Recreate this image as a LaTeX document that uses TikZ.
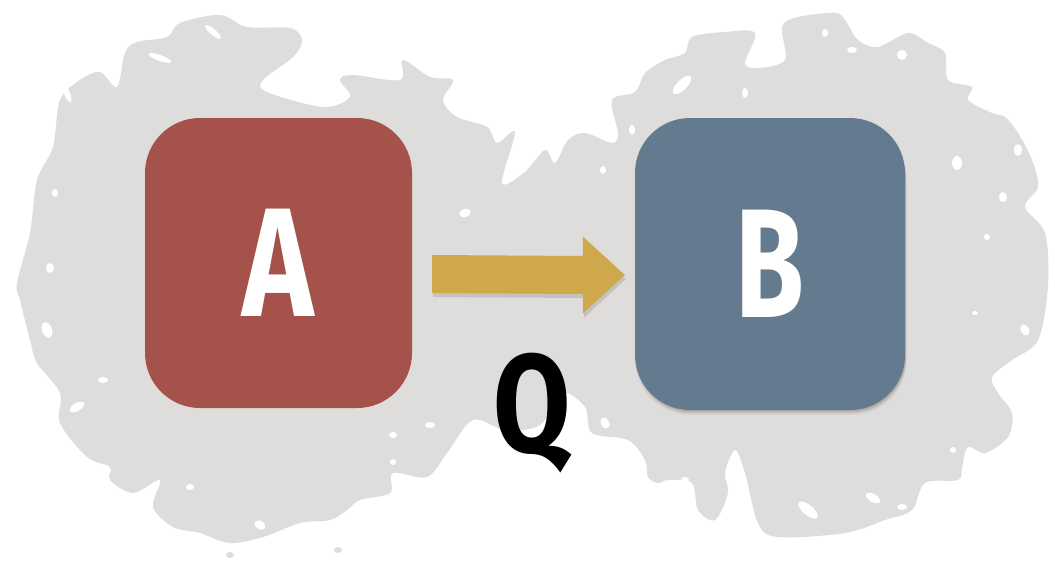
\documentclass[tikz,border=0pt]{standalone}
\usepackage{fontspec}
\newfontfamily\handfont{Fira Sans}
\usetikzlibrary{calc,shadows}
\definecolor{blobgray}{HTML}{DEDDDC}
\definecolor{redA}{HTML}{A4524A}
\definecolor{blueB}{HTML}{647A8F}
\definecolor{goldC}{HTML}{CFA84B}
\tikzset{
  card/.style={rounded corners=55pt, inner sep=0pt, text=white,
    font=\handfont\bfseries\fontsize{155}{155}\selectfont},
  speck/.style={fill=white},
  label/.style={inner sep=0pt, anchor=base,
    font=\handfont\bfseries\fontsize{140}{140}\selectfont},
}
\begin{document}
\begin{tikzpicture}[x=1pt,y=-1pt]
\useasboundingbox (0,0) rectangle (1055,562);
\fill[white] (0,0) rectangle (1055,562);
% splash background
\fill[blobgray] plot[smooth cycle, tension=0.55] coordinates {
(17,283) (30,233) (37,180) (53,147) (60,100) (80,80) (100,72) (117,87) (125,53) (137,42) (167,37) (180,23) (220,15) (247,27) (290,28) (302,40) (293,57) (263,80) (267,92) (323,107) (350,97) (340,80) (353,75) (400,80) (403,60) (430,77) (453,80) (443,100) (457,117) (487,127) (497,143) (515,132) (502,183) (525,172) (545,150) (555,163) (568,140) (585,133) (612,143) (618,133) (612,100) (635,92) (645,73) (665,60) (685,53) (692,37) (725,32) (755,33) (745,63) (758,68) (785,60) (782,27) (798,17) (835,13) (845,20) (858,40) (878,47) (908,33) (928,43) (945,53) (948,80) (972,87) (968,100) (992,113) (1005,117) (1018,133) (1032,160) (1038,187) (1025,207) (1045,233) (1048,285) (1038,340) (1012,360) (992,377) (998,393) (1012,413) (1008,437) (985,453) (968,447) (962,467) (958,480) (925,483) (912,510) (885,520) (845,533) (778,537) (758,523) (745,473) (735,450) (725,473) (728,493) (715,520) (698,510) (692,483) (668,480) (658,483) (648,477) (645,460) (628,440) (592,433) (585,407) (562,393) (540,425) (505,430) (473,420) (447,453) (427,477) (393,473) (390,493) (360,500) (347,510) (330,520) (300,523) (263,537) (230,543) (200,533) (173,527) (153,507) (160,480) (133,493) (110,480) (110,467) (87,457) (60,423) (60,393) (37,363) (30,340) (20,300)};
% white specks
\foreach \x/\y/\a/\b/\r in {160/58/12/3/-20, 67/93/3/10/20, 55/193/3/4/0, 50/268/4/5/0, 363/67/6/3/0, 458/107/3/6/0, 465/213/6/4/20, 213/32/10/3/-40, 265/18/5/3/-20,
  675/32/4/4/0, 768/45/5/4/0, 825/33/3/4/0, 852/50/5/3/0, 902/55/5/5/0, 682/85/12/5/45, 632/130/3/5/0, 603/170/3/4/0, 745/93/3/5/0, 957/163/5/7/0, 1018/150/4/6/0, 1015/107/3/6/0, 1003/197/4/5/0, 987/237/3/3/0,
  47/330/5/8/20, 103/380/5/3/0, 77/407/8/4/30, 190/487/4/3/0, 260/525/6/4/-30, 393/435/4/3/0, 430/425/5/3/0, 393/462/3/3/0,
  975/313/3/2/0, 1025/330/4/6/30, 1005/383/5/3/0, 953/450/3/3/0, 902/507/5/3/0, 873/498/8/4/-30, 808/510/12/5/-40, 685/480/4/3/0, 605/423/4/6/30, 995/462/4/2/0}
  \fill[speck, rotate around={\r:(\x,\y)}] (\x,\y) ellipse [x radius=\a, y radius=\b];
\fill[blobgray] (230,555) ellipse [x radius=4, y radius=3];
\fill[blobgray] (338,550) ellipse [x radius=4, y radius=3];
% soft shadow under card B
\foreach \d/\o in {6/0.05, 4.5/0.07, 3/0.09, 1.5/0.1}
  \fill[black!70!brown, opacity=\o, rounded corners=55pt] (637-\d*0.3,120+\d) rectangle (905+\d*0.3,410+\d*0.8);
% cards
\node[card, fill=redA, minimum width=267pt, minimum height=290pt] (A) at (278.5,263) {\scalebox{0.78}[1]{A}};
\node[card, fill=blueB, minimum width=270pt, minimum height=292pt] (B) at (770,264) {\scalebox{0.72}[1]{B}};
% arrow connector
\coordinate (s) at ($(A.east)+(20,11)$);
\coordinate (t) at ($(B.west)+(-10,11)$);
\fill[black, opacity=0.12] ($(s)+(1,-16)$) -- ($(t)+(-41,-16)$) -- ($(t)+(-41,-35)$) -- ($(t)+(1,4)$) -- ($(t)+(-41,43)$) -- ($(t)+(-41,23)$) -- ($(s)+(1,23)$) -- cycle;
\fill[goldC] ($(s)+(0,-19)$) -- ($(t)+(-42,-19)$) -- ($(t)+(-42,-38.5)$) -- (t) -- ($(t)+(-42,38.5)$) -- ($(t)+(-42,19)$) -- ($(s)+(0,19)$) -- cycle;
% label
\node[label] (Q) at (532,452) {\scalebox{0.8}[1]{Q}};
\end{tikzpicture}
\end{document}
